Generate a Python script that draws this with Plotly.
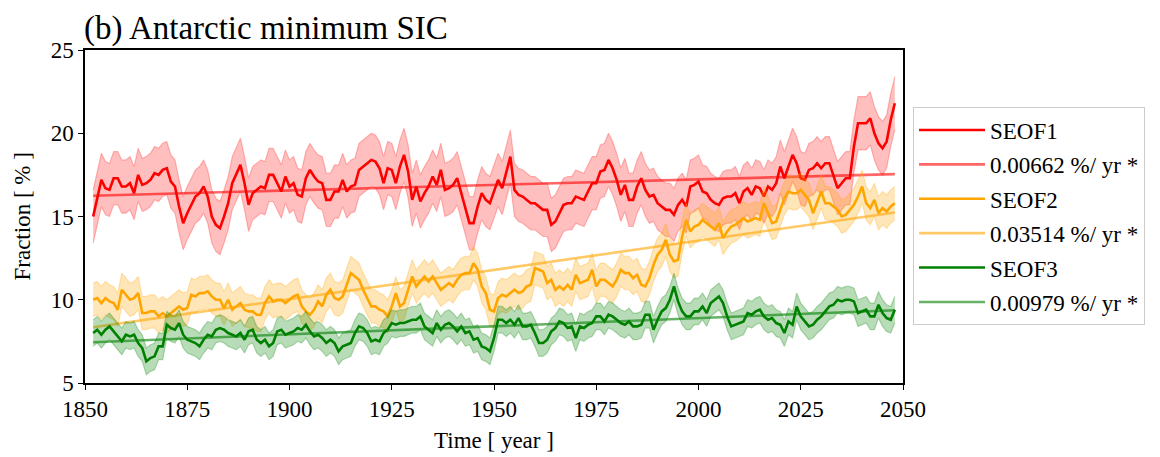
import plotly.graph_objects as go

years = list(range(1852, 2049))

seof1 = [15.0, 16.2, 17.2, 16.7, 16.6, 17.3, 17.3, 16.8, 16.8, 17.0,
         16.4, 17.5, 16.9, 17.0, 17.2, 17.6, 17.5, 17.8, 17.9, 17.1,
         16.8, 15.6, 14.6, 15.2, 15.7, 16.2, 16.4, 16.8, 16.2, 15.0,
         14.5, 14.3, 15.0, 15.8, 17.0, 17.6, 18.1, 17.0, 15.7, 16.4,
         16.6, 16.8, 16.7, 17.5, 17.5, 17.0, 16.5, 17.4, 16.8, 17.0,
         16.3, 16.2, 17.3, 17.8, 17.4, 17.1, 17.0, 16.0, 16.0, 16.5,
         16.5, 17.2, 16.5, 16.8, 16.9, 17.8, 18.0, 18.2, 18.4, 18.3,
         17.9, 17.0, 17.9, 17.8, 17.0, 18.0, 18.7, 17.7, 16.0, 16.8,
         15.9, 16.4, 16.8, 17.4, 16.9, 17.8, 16.6, 16.7, 16.9, 17.3,
         16.4, 15.6, 14.6, 14.6, 15.6, 16.4, 16.0, 15.8, 16.5, 17.2,
         16.7, 17.6, 18.6, 16.6, 16.3, 16.2, 16.0, 15.8, 15.8, 15.6,
         15.4, 15.4, 14.5, 14.7, 15.2, 15.7, 15.8, 15.8, 16.2, 16.1,
         16.0, 16.5, 17.0, 17.0, 17.7, 17.8, 18.4, 17.9, 17.2, 16.3,
         16.9, 16.0, 16.0, 16.8, 17.3, 16.6, 16.2, 16.3, 15.8, 15.6,
         15.4, 15.4, 15.1, 15.7, 16.0, 15.6, 16.8, 16.9, 17.1, 16.5,
         16.4, 16.0, 15.8, 15.7, 16.1, 16.2, 16.2, 16.4, 15.8, 16.5,
         16.7, 16.3, 16.8, 16.7, 16.2, 16.8, 16.6, 17.0, 18.0, 17.3,
         18.0, 18.7, 18.2, 17.3, 17.2, 17.8, 17.9, 18.2, 17.9, 18.2,
         18.2, 17.4, 16.7, 17.0, 17.3, 17.3, 19.2, 20.6, 20.6, 20.6,
         20.9, 20.0, 19.4, 19.1, 19.5, 20.8, 21.8]

seof2 = [10.0, 10.1, 9.8, 10.1, 9.9, 9.8, 9.4, 10.6, 10.3, 10.0,
         10.1, 10.4, 9.2, 9.2, 9.3, 9.3, 9.0, 9.2, 9.0, 9.2,
         9.4, 9.6, 9.4, 9.5, 10.3, 10.2, 10.4, 10.4, 10.5, 10.2,
         10.0, 10.0, 9.5, 10.0, 9.4, 9.6, 9.8, 9.4, 9.3, 9.3,
         9.1, 9.1, 9.8, 10.2, 9.9, 10.0, 10.0, 9.8, 10.0, 10.2,
         10.3, 9.6, 9.3, 9.1, 9.4, 9.9, 9.6, 10.3, 10.6, 10.1,
         10.0, 10.2, 10.9, 11.6, 11.4, 11.2, 10.6, 10.1, 9.6, 9.6,
         9.4, 9.3, 9.0, 9.6, 10.4, 9.6, 9.8, 10.6, 11.4, 10.8,
         11.1, 11.4, 11.1, 11.4, 11.0, 10.6, 10.8, 11.0, 10.8, 11.2,
         11.5, 11.6, 11.6, 12.2, 11.8, 10.8, 10.4, 9.4, 9.3, 10.1,
         10.3, 10.2, 10.4, 10.6, 10.4, 10.5, 10.8, 10.9, 11.9, 11.8,
         11.7, 11.0, 11.2, 10.6, 10.8, 10.6, 10.9, 10.6, 11.5, 11.0,
         11.1, 11.2, 11.8, 10.8, 11.2, 11.2, 11.0, 10.8, 11.2, 11.8,
         11.6, 11.6, 11.3, 11.5, 10.9, 10.8, 11.3, 12.1, 12.7, 13.0,
         13.6, 12.7, 12.3, 12.4, 13.8, 14.8, 14.1, 14.4, 14.5, 14.8,
         14.6, 14.4, 14.2, 14.6, 13.7, 14.1, 14.4, 14.5, 14.7, 14.9,
         14.7, 14.8, 14.9, 14.8, 15.8, 15.2, 14.6, 14.7, 15.4, 16.1,
         16.5, 16.4, 16.4, 16.6, 16.3, 16.0, 15.2, 15.9, 16.5, 15.8,
         15.8, 15.6, 15.4, 15.0, 15.1, 15.4, 15.7, 16.2, 16.8, 15.8,
         15.5, 16.0, 15.2, 15.5, 15.3, 15.6, 15.8]

seof3 = [8.0, 8.2, 7.9, 8.2, 8.4, 8.1, 7.8, 7.5, 7.9, 7.8,
         7.9, 7.4, 7.1, 6.3, 6.5, 6.6, 7.2, 7.2, 8.5, 8.3,
         8.2, 8.6, 7.9, 7.6, 7.5, 7.4, 7.2, 7.6, 7.9, 7.8,
         8.2, 8.3, 8.2, 8.0, 7.9, 7.8, 8.0, 7.6, 8.1, 8.2,
         7.6, 7.4, 7.6, 7.2, 7.4, 8.1, 8.2, 7.9, 8.0, 8.1,
         8.3, 8.2, 8.5, 8.1, 7.8, 7.9, 7.7, 7.4, 7.6, 7.4,
         6.9, 7.2, 7.3, 7.4, 8.0, 8.4, 8.3, 8.0, 7.5, 7.6,
         7.5, 8.0, 8.2, 8.6, 8.5, 8.6, 8.6, 8.7, 8.8, 8.8,
         9.0, 8.4, 8.2, 8.0, 8.6, 8.2, 8.5, 8.6, 8.4, 8.1,
         8.4, 8.0, 8.1, 7.6, 7.7, 7.2, 7.1, 6.9, 7.7, 8.8,
         8.8, 8.6, 8.8, 8.5, 8.9, 8.4, 8.4, 8.5, 8.0, 7.4,
         7.4, 7.6, 8.1, 8.3, 8.7, 8.6, 8.3, 8.4, 7.7, 8.4,
         8.3, 8.5, 8.6, 9.0, 9.0, 8.7, 9.1, 9.0, 8.8, 8.6,
         8.5, 8.7, 8.4, 8.4, 8.5, 9.1, 9.1, 8.2, 8.8, 9.3,
         9.5, 10.0, 10.8, 9.9, 9.3, 9.0, 9.0, 9.3, 9.3, 9.6,
         9.2, 9.8, 10.0, 10.2, 9.8, 9.0, 8.4, 8.5, 8.6, 8.7,
         9.2, 9.1, 9.3, 9.4, 9.0, 8.8, 8.9, 8.6, 8.5, 8.0,
         8.7, 8.5, 9.6, 9.0, 8.7, 8.4, 8.5, 8.8, 9.0, 9.3,
         9.6, 9.7, 10.0, 9.9, 10.0, 10.0, 9.9, 9.2, 9.3, 9.4,
         9.0, 9.0, 9.7, 9.2, 8.9, 8.8, 9.4]

# ensemble spread (half-width of shaded band), % units
spread = {"SEOF1": 1.6, "SEOF2": 1.0, "SEOF3": 0.8}
# linear trends: value at first year and slope (%/yr)
trend_start = {"SEOF1": 16.25, "SEOF2": 8.35, "SEOF3": 7.45}
trend_slope = {"SEOF1": 0.00662, "SEOF2": 0.03514, "SEOF3": 0.00979}
trend_labels = {"SEOF1": "0.00662 %/ yr *", "SEOF2": "0.03514 %/ yr *", "SEOF3": "0.00979 %/ yr *"}

series = {"SEOF1": seof1, "SEOF2": seof2, "SEOF3": seof3}
colors = {"SEOF1": (255, 0, 0), "SEOF2": (255, 165, 0), "SEOF3": (0, 128, 0)}
band_alpha = {"SEOF1": 0.25, "SEOF2": 0.28, "SEOF3": 0.28}

FONT = "Liberation Serif"
FS = 23
fig = go.Figure()
for i, (name, vals) in enumerate(series.items()):
    r, g, b = colors[name]
    sd = spread[name]
    upper = [v + sd for v in vals]
    lower = [v - sd for v in vals]
    ba = band_alpha[name]
    fig.add_trace(go.Scatter(x=years, y=lower, mode="lines",
                             line=dict(color=f"rgba({r},{g},{b},{ba})", width=1.2),
                             showlegend=False, hoverinfo="skip", legendgroup=f"{i}0band"))
    fig.add_trace(go.Scatter(x=years, y=upper, mode="lines", fill="tonexty",
                             fillcolor=f"rgba({r},{g},{b},{ba})",
                             line=dict(color=f"rgba({r},{g},{b},{ba})", width=1.2),
                             showlegend=False, hoverinfo="skip", legendgroup=f"{i}0band"))
    fig.add_trace(go.Scatter(x=years, y=vals, mode="lines", name=name,
                             line=dict(color=f"rgb({r},{g},{b})", width=2.6),
                             legendgroup=f"{i}1", legendrank=2 * i + 1))
    y0 = trend_start[name]
    s = trend_slope[name]
    tx = [years[0], years[-1]]
    ty = [y0, y0 + s * (years[-1] - years[0])]
    fig.add_trace(go.Scatter(x=tx, y=ty, mode="lines", name=trend_labels[name],
                             line=dict(color=f"rgba({r},{g},{b},0.6)", width=2.6),
                             legendgroup=f"{i}2", legendrank=2 * i + 2))

axis_common = dict(showline=True, linecolor="black", linewidth=1.5, mirror=True,
                   ticks="outside", ticklen=5, tickwidth=1.2, tickcolor="black",
                   showgrid=False, zeroline=False,
                   tickfont=dict(family=FONT, size=FS, color="black"))

fig.update_layout(
    width=1160, height=457,
    margin=dict(l=85, r=257, t=50, b=74),
    plot_bgcolor="white", paper_bgcolor="white",
    font=dict(family=FONT, color="black"),
    title=dict(text="(b) Antarctic minimum SIC", x=84 / 1160, xref="container", xanchor="left",
               y=1 - 27 / 457, yref="container", yanchor="middle",
               font=dict(family=FONT, size=33, color="black")),
    xaxis=dict(range=[1850, 2050], tick0=1850, dtick=25, **axis_common),
    yaxis=dict(range=[5, 25], tick0=5, dtick=5, **axis_common),
    legend=dict(x=1.012, y=0.828, xanchor="left", yanchor="top",
                font=dict(family=FONT, size=FS, color="black"),
                bordercolor="#cccccc", borderwidth=1.2, bgcolor="white",
                itemwidth=66, tracegroupgap=1.5, traceorder="grouped"),
    annotations=[
        dict(text="Time [ year ]", xref="paper", yref="paper", x=0.5, y=(383 - 440) / 333,
             xanchor="center", yanchor="middle", showarrow=False,
             font=dict(family=FONT, size=FS, color="black")),
        dict(text="Fraction [ % ]", xref="paper", yref="paper", x=(22 - 85) / 818, y=0.5,
             xanchor="center", yanchor="middle", textangle=-90, showarrow=False,
             font=dict(family=FONT, size=FS, color="black")),
    ],
)

fig.write_html("out.html")
